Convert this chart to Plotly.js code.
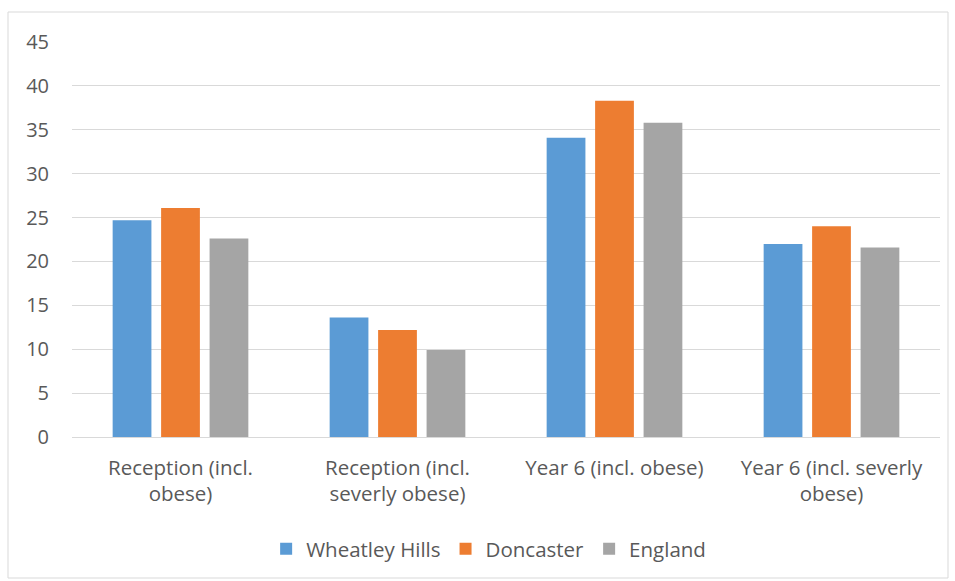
<!DOCTYPE html>
<html>
<head>
<meta charset="utf-8">
<script src="https://cdn.plot.ly/plotly-3.0.1.min.js"></script>
<style>html,body{margin:0;padding:0;background:#fff;}#chart{width:955px;height:581px;}</style>
</head>
<body>
<div id="chart"></div>
<script>
const categories = ["Reception (incl.<br>obese)", "Reception (incl.<br>severly obese)", "Year 6 (incl. obese)", "Year 6 (incl. severly<br>obese)"];
const seriesNames = ["Wheatley Hills", "Doncaster", "England"];
const wheatleyHills = [24.7, 13.6, 34.1, 22.0];
const doncaster = [26.1, 12.2, 38.3, 24.0];
const england = [22.6, 9.9, 35.8, 21.6];
const colors = ["#5B9BD5", "#ED7D31", "#A5A5A5"];
const yTicks = [0, 5, 10, 15, 20, 25, 30, 35, 40, 45];

const values = [wheatleyHills, doncaster, england];
const traces = values.map((v, i) => ({
  type: 'bar', x: categories, y: v, name: seriesNames[i],
  marker: {color: colors[i]}, hoverinfo: 'none'
}));

const L = 72, R = 15, T = 42, B = 144;
const W = 955 - L - R, H = 581 - T - B;
const layout = {
  width: 955, height: 581,
  margin: {l: L, r: R, t: T, b: B, pad: 0},
  paper_bgcolor: '#fff', plot_bgcolor: '#fff',
  font: {family: '"Open Sans", sans-serif', size: 20, color: '#595959'},
  barmode: 'group', bargap: 0.33, bargroupgap: 0.2,
  showlegend: true,
  legend: {orientation: 'h', x: 0.48, xanchor: 'center', y: (437 - 549) / H, yanchor: 'middle',
    font: {size: 20.5, color: '#595959'}, itemwidth: 30, traceorder: 'normal'},
  xaxis: {type: 'category', showgrid: false, showline: true, linecolor: '#d9d9d9', linewidth: 1,
    ticks: '', tickfont: {size: 20.5, color: '#595959'}, ticklabelstandoff: 12, fixedrange: true},
  yaxis: {range: [0, 45], tickvals: yTicks, showgrid: true, gridcolor: '#d9d9d9', gridwidth: 1,
    zeroline: false, showline: false, ticks: '', tickfont: {size: 20, color: '#595959'},
    ticklabelstandoff: 22, fixedrange: true},
  shapes: [{type: 'rect', xref: 'paper', yref: 'paper',
    x0: (8 - L) / W, x1: (948 - L) / W, y0: (437 - 578) / H, y1: (437 - 12) / H,
    line: {color: '#d9d9d9', width: 1}, fillcolor: 'rgba(0,0,0,0)', layer: 'below'}]
};
Plotly.newPlot('chart', traces, layout, {displayModeBar: false, staticPlot: true});
</script>
</body>
</html>
